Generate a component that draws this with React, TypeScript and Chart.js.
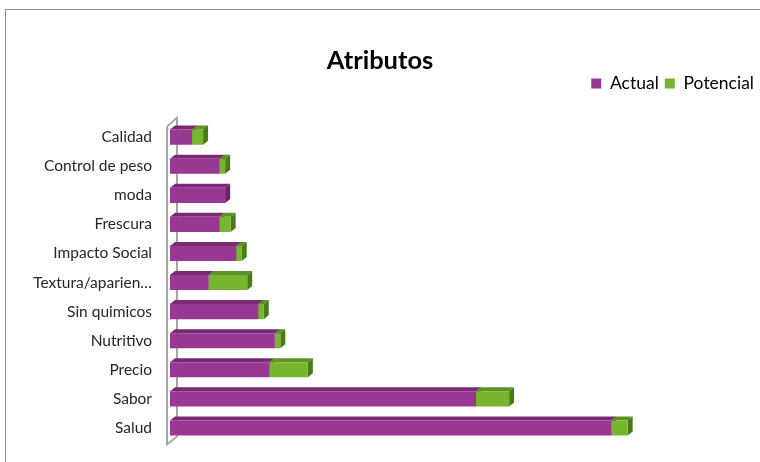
import React, { useEffect, useRef } from "react";
import { Chart, registerables } from "chart.js";

Chart.register(...registerables);

const categories = [
  "Calidad",
  "Control de peso",
  "moda",
  "Frescura",
  "Impacto Social",
  "Textura/aparien…",
  "Sin quimicos",
  "Nutritivo",
  "Precio",
  "Sabor",
  "Salud",
];
const actualValues = [4, 9, 10, 9, 12, 7, 16, 19, 18, 55.5, 80];
const potencialValues = [2, 1, 0, 2, 1, 7, 1, 1, 7, 6, 3];

const PURPLE = "#993893";
const PURPLE_TOP = "#7a2a75";
const PURPLE_SIDE = "#6a2266";
const GREEN = "#78b52f";
const GREEN_TOP = "#5e9224";
const GREEN_SIDE = "#4b7a1a";

const DX = 5;
const DY = 4;

const depthPlugin = {
  id: "depth3d",
  beforeDraw(chart: any) {
    const ctx = chart.ctx;
    ctx.save();
    ctx.strokeStyle = "#8c8c8c";
    ctx.lineWidth = 1;
    ctx.beginPath();
    ctx.moveTo(5.5, chart.height + 2);
    ctx.lineTo(5.5, 9.5);
    ctx.lineTo(chart.width + 2, 9.5);
    ctx.stroke();
    ctx.restore();
  },
  beforeDatasetsDraw(chart: any) {
    const ctx = chart.ctx;
    const area = chart.chartArea;
    const L = area.left;
    ctx.save();
    // wall
    ctx.strokeStyle = "#a6a6a6";
    ctx.lineWidth = 2;
    ctx.beginPath();
    ctx.moveTo(L - 3, area.top + 4);
    ctx.lineTo(L - 3, area.bottom + 2);
    ctx.lineTo(L - 3 + 10, area.bottom - 6);
    ctx.moveTo(L - 3, area.top + 4);
    ctx.lineTo(L - 3 + 10, area.top - 5);
    ctx.lineTo(L - 3 + 10, area.bottom - 6);
    ctx.stroke();

    const tops = [PURPLE_TOP, GREEN_TOP];
    const sides = [PURPLE_SIDE, GREEN_SIDE];
    chart.data.datasets.forEach((_ds: any, di: number) => {
      const meta = chart.getDatasetMeta(di);
      meta.data.forEach((el: any) => {
        const p = el.getProps(["x", "y", "base", "height"], true);
        const x1 = Math.min(p.x, p.base);
        const x2 = Math.max(p.x, p.base);
        if (x2 - x1 < 0.5) return;
        const top = p.y - p.height / 2;
        const bottom = p.y + p.height / 2;
        ctx.fillStyle = tops[di];
        ctx.beginPath();
        ctx.moveTo(x1, top);
        ctx.lineTo(x1 + DX, top - DY);
        ctx.lineTo(x2 + DX, top - DY);
        ctx.lineTo(x2, top);
        ctx.closePath();
        ctx.fill();
        ctx.fillStyle = sides[di];
        ctx.beginPath();
        ctx.moveTo(x2, top);
        ctx.lineTo(x2 + DX, top - DY);
        ctx.lineTo(x2 + DX, bottom - DY);
        ctx.lineTo(x2, bottom);
        ctx.closePath();
        ctx.fill();
      });
    });
    ctx.restore();
  },
};

export default function App() {
  const ref = useRef<HTMLCanvasElement>(null);

  useEffect(() => {
    if (!ref.current) return;
    Chart.defaults.font.family = "Lato, 'Noto Sans', sans-serif";
    const chart = new Chart(ref.current, {
      type: "bar",
      data: {
        labels: categories,
        datasets: [
          {
            label: "Actual",
            data: actualValues,
            backgroundColor: PURPLE,
            borderWidth: 0,
            categoryPercentage: 1,
            barPercentage: 0.52,
          },
          {
            label: "Potencial",
            data: potencialValues,
            backgroundColor: GREEN,
            borderWidth: 0,
            categoryPercentage: 1,
            barPercentage: 0.52,
          },
        ],
      },
      options: {
        indexAxis: "y",
        responsive: false,
        animation: false,
        layout: { padding: { top: 0, bottom: 19.5, left: 0, right: 0 } },
        plugins: {
          tooltip: { enabled: false },
          title: {
            display: true,
            text: "Atributos",
            color: "#000",
            font: { size: 25.5, weight: "bold", lineHeight: 0.65 },
            padding: { top: 52.2, bottom: 0 },
          },
          legend: {
            position: "top",
            align: "end",
            labels: {
              boxWidth: 10,
              boxHeight: 10,
              padding: 6,
              color: "#000",
              font: { size: 17.5, lineHeight: 1 },
            },
          },
        },
        scales: {
          x: {
            position: "top",
            stacked: true,
            min: 0,
            max: 107,
            ticks: { display: false },
            grid: { display: false, drawTicks: false },
            border: { display: false },
            afterFit: (s: any) => {
              s.height = 20.35;
            },
          },
          y: {
            stacked: true,
            ticks: {
              color: "#262626",
              padding: 18,
              font: { size: 15.5 },
              autoSkip: false,
            },
            grid: { display: false, drawTicks: false },
            border: { display: false },
            afterFit: (s: any) => {
              s.width = 170;
              s.paddingTop = 0;
              s.paddingBottom = 0;
            },
          },
        },
      },
      plugins: [depthPlugin],
    } as any);
    return () => chart.destroy();
  }, []);

  return (
    <div style={{ position: "fixed", left: 0, top: 0, width: 760, height: 462, background: "#fff" }}>
      <canvas ref={ref} width={760} height={462} style={{ display: "block" }} />
    </div>
  );
}
